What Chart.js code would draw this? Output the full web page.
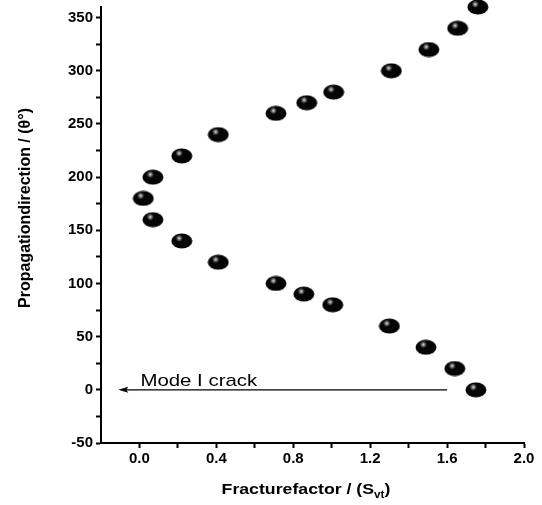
<!DOCTYPE html>
<html>
<head>
<meta charset="utf-8">
<script src="https://cdn.jsdelivr.net/npm/chart.js@4.4.1/dist/chart.umd.min.js"></script>
<style>
    html, body { margin: 0; padding: 0; background: #fff; overflow: hidden; }
    #wrap { width: 542px; height: 510px; position: relative; top: -5px; }
</style>
</head>
<body>
<div id="wrap"><canvas id="crack-chart"></canvas></div>
<script>
// Crack propagation direction vs fracture factor

const propagationAngle = [0, 20, 40, 60, 80, 90, 100, 120, 140, 160, 180, 200, 220, 240, 260, 270, 280, 300, 320, 340, 360];
const fractureFactor = [1.75, 1.64, 1.49, 1.30, 1.005, 0.855, 0.71, 0.41, 0.22, 0.07, 0.02, 0.07, 0.22, 0.41, 0.71, 0.87, 1.01, 1.31, 1.505, 1.655, 1.76];

const xTicks = [0.0, 0.2, 0.4, 0.6, 0.8, 1.0, 1.2, 1.4, 1.6, 1.8, 2.0];
const xLabelled = [0.0, 0.4, 0.8, 1.2, 1.6, 2.0];
const yTicks = [-50, -25, 0, 25, 50, 75, 100, 125, 150, 175, 200, 225, 250, 275, 300, 325, 350];
const yLabelled = [-50, 0, 50, 100, 150, 200, 250, 300, 350];

// arrow "Mode I crack": from (x, y) to (x, y), in data units
const crackArrowFrom = [1.6, 0];
const crackArrowTo = [-0.11, 0];
const crackLabel = 'Mode I crack';

const FONT = '"Liberation Sans", Arial, sans-serif';

/**
 * Black glossy bead used as the point marker
 */
function makeBead(w, h) {
    const c = document.createElement('canvas');
    c.width = w;
    c.height = h;
    const g = c.getContext('2d');
    g.fillStyle = '#050505';
    g.beginPath();
    g.ellipse(w / 2, h / 2, w / 2 - 0.5, h / 2 - 0.5, 0, 0, Math.PI * 2);
    g.fill();
    const hx = w * 0.38, hy = h * 0.33;
    const grad = g.createRadialGradient(hx, hy, 0, hx, hy, w * 0.16);
    grad.addColorStop(0, 'rgba(255,255,255,0.95)');
    grad.addColorStop(0.5, 'rgba(200,200,200,0.5)');
    grad.addColorStop(1, 'rgba(255,255,255,0)');
    g.fillStyle = grad;
    g.beginPath();
    g.ellipse(w / 2, h / 2, w / 2 - 0.5, h / 2 - 0.5, 0, 0, Math.PI * 2);
    g.fill();
    return c;
}

const bead = makeBead(22, 16);

const labelsPlugin = {
    id: 'labelsPlugin',
    afterDraw(chart) {
        const ctx = chart.ctx;
        const xs = chart.scales.x;
        const ys = chart.scales.y;
        ctx.save();
        ctx.fillStyle = '#000';
        ctx.strokeStyle = '#000';

        // arrow
        const x1 = xs.getPixelForValue(crackArrowFrom[0]);
        const y1 = ys.getPixelForValue(crackArrowFrom[1]);
        const x2 = xs.getPixelForValue(crackArrowTo[0]);
        const y2 = ys.getPixelForValue(crackArrowTo[1]);
        ctx.lineWidth = 1.2;
        ctx.beginPath();
        ctx.moveTo(x1, y1);
        ctx.lineTo(x2 + 4, y2);
        ctx.stroke();
        ctx.beginPath();
        ctx.moveTo(x2, y2);
        ctx.lineTo(x2 + 10, y2 - 3);
        ctx.lineTo(x2 + 8, y2);
        ctx.lineTo(x2 + 10, y2 + 3);
        ctx.closePath();
        ctx.fill();

        ctx.font = '17px ' + FONT;
        ctx.textBaseline = 'alphabetic';
        ctx.textAlign = 'left';
        ctx.save();
        ctx.translate(xs.getPixelForValue(0.005), y2 - 4);
        ctx.scale(1.2, 1);
        ctx.fillText(crackLabel, 0, 0);
        ctx.restore();

        // x title with subscript
        ctx.save();
        ctx.translate(306, 499);
        ctx.scale(1.18, 1);
        ctx.font = 'bold 15px ' + FONT;
        const main = 'Fracturefactor / (S';
        const sub = 'vt';
        const wMain = ctx.measureText(main).width;
        ctx.font = 'bold 10px ' + FONT;
        const wSub = ctx.measureText(sub).width;
        ctx.font = 'bold 15px ' + FONT;
        const wEnd = ctx.measureText(')').width;
        let tx = -(wMain + wSub + wEnd) / 2;
        ctx.fillText(main, tx, 0);
        tx += wMain;
        ctx.font = 'bold 10px ' + FONT;
        ctx.fillText(sub, tx, 4);
        tx += wSub;
        ctx.font = 'bold 15px ' + FONT;
        ctx.fillText(')', tx, 0);
        ctx.restore();

        // y title
        ctx.save();
        ctx.translate(30, 213);
        ctx.rotate(-Math.PI / 2);
        ctx.textAlign = 'center';
        ctx.font = 'bold 16px ' + FONT;
        ctx.fillText('Propagationdirection / (\u03B8\u00B0)', 0, 0);
        ctx.restore();

        ctx.restore();
    }
};

const chart = new Chart(document.getElementById('crack-chart').getContext('2d'), {
    type: 'scatter',
    data: {
        datasets: [{
            label: 'Propagation direction',
            data: fractureFactor.map((f, i) => ({ x: f, y: propagationAngle[i] })),
            pointStyle: bead,
            pointRadius: 11,
            pointHoverRadius: 11,
            clip: false
        }]
    },
    options: {
        responsive: true,
        maintainAspectRatio: false,
        animation: false,
        layout: { autoPadding: false, padding: { top: 6, right: 18, left: 0, bottom: 0 } },
        plugins: {
            legend: { display: false },
            tooltip: { enabled: false }
        },
        scales: {
            x: {
                type: 'linear',
                min: -0.2,
                max: 2.0,
                afterBuildTicks: (axis) => { axis.ticks = xTicks.map(v => ({ value: v })); },
                afterFit: (axis) => { axis.height = 62; },
                border: { color: '#000', width: 2 },
                grid: { display: true, drawOnChartArea: false, drawTicks: true, tickLength: 5, tickColor: '#000', tickWidth: 2 },
                ticks: {
                    color: '#000',
                    padding: 2,
                    maxRotation: 0,
                    autoSkip: false,
                    font: { family: FONT, size: 15, weight: 'bold' },
                    callback: (v) => xLabelled.some(l => Math.abs(l - v) < 1e-6) ? v.toFixed(1) : ''
                }
            },
            y: {
                type: 'linear',
                min: -50,
                max: 360,
                afterBuildTicks: (axis) => { axis.ticks = yTicks.map(v => ({ value: v })); },
                afterFit: (axis) => { axis.width = 101; },
                border: { color: '#000', width: 2 },
                grid: { display: true, drawOnChartArea: false, drawTicks: true, tickLength: 5, tickColor: '#000', tickWidth: 2 },
                ticks: {
                    color: '#000',
                    padding: 3,
                    autoSkip: false,
                    font: { family: FONT, size: 15, weight: 'bold' },
                    callback: (v) => yLabelled.includes(v) ? String(v) : ''
                }
            }
        }
    },
    plugins: [labelsPlugin]
});
</script>
</body>
</html>
